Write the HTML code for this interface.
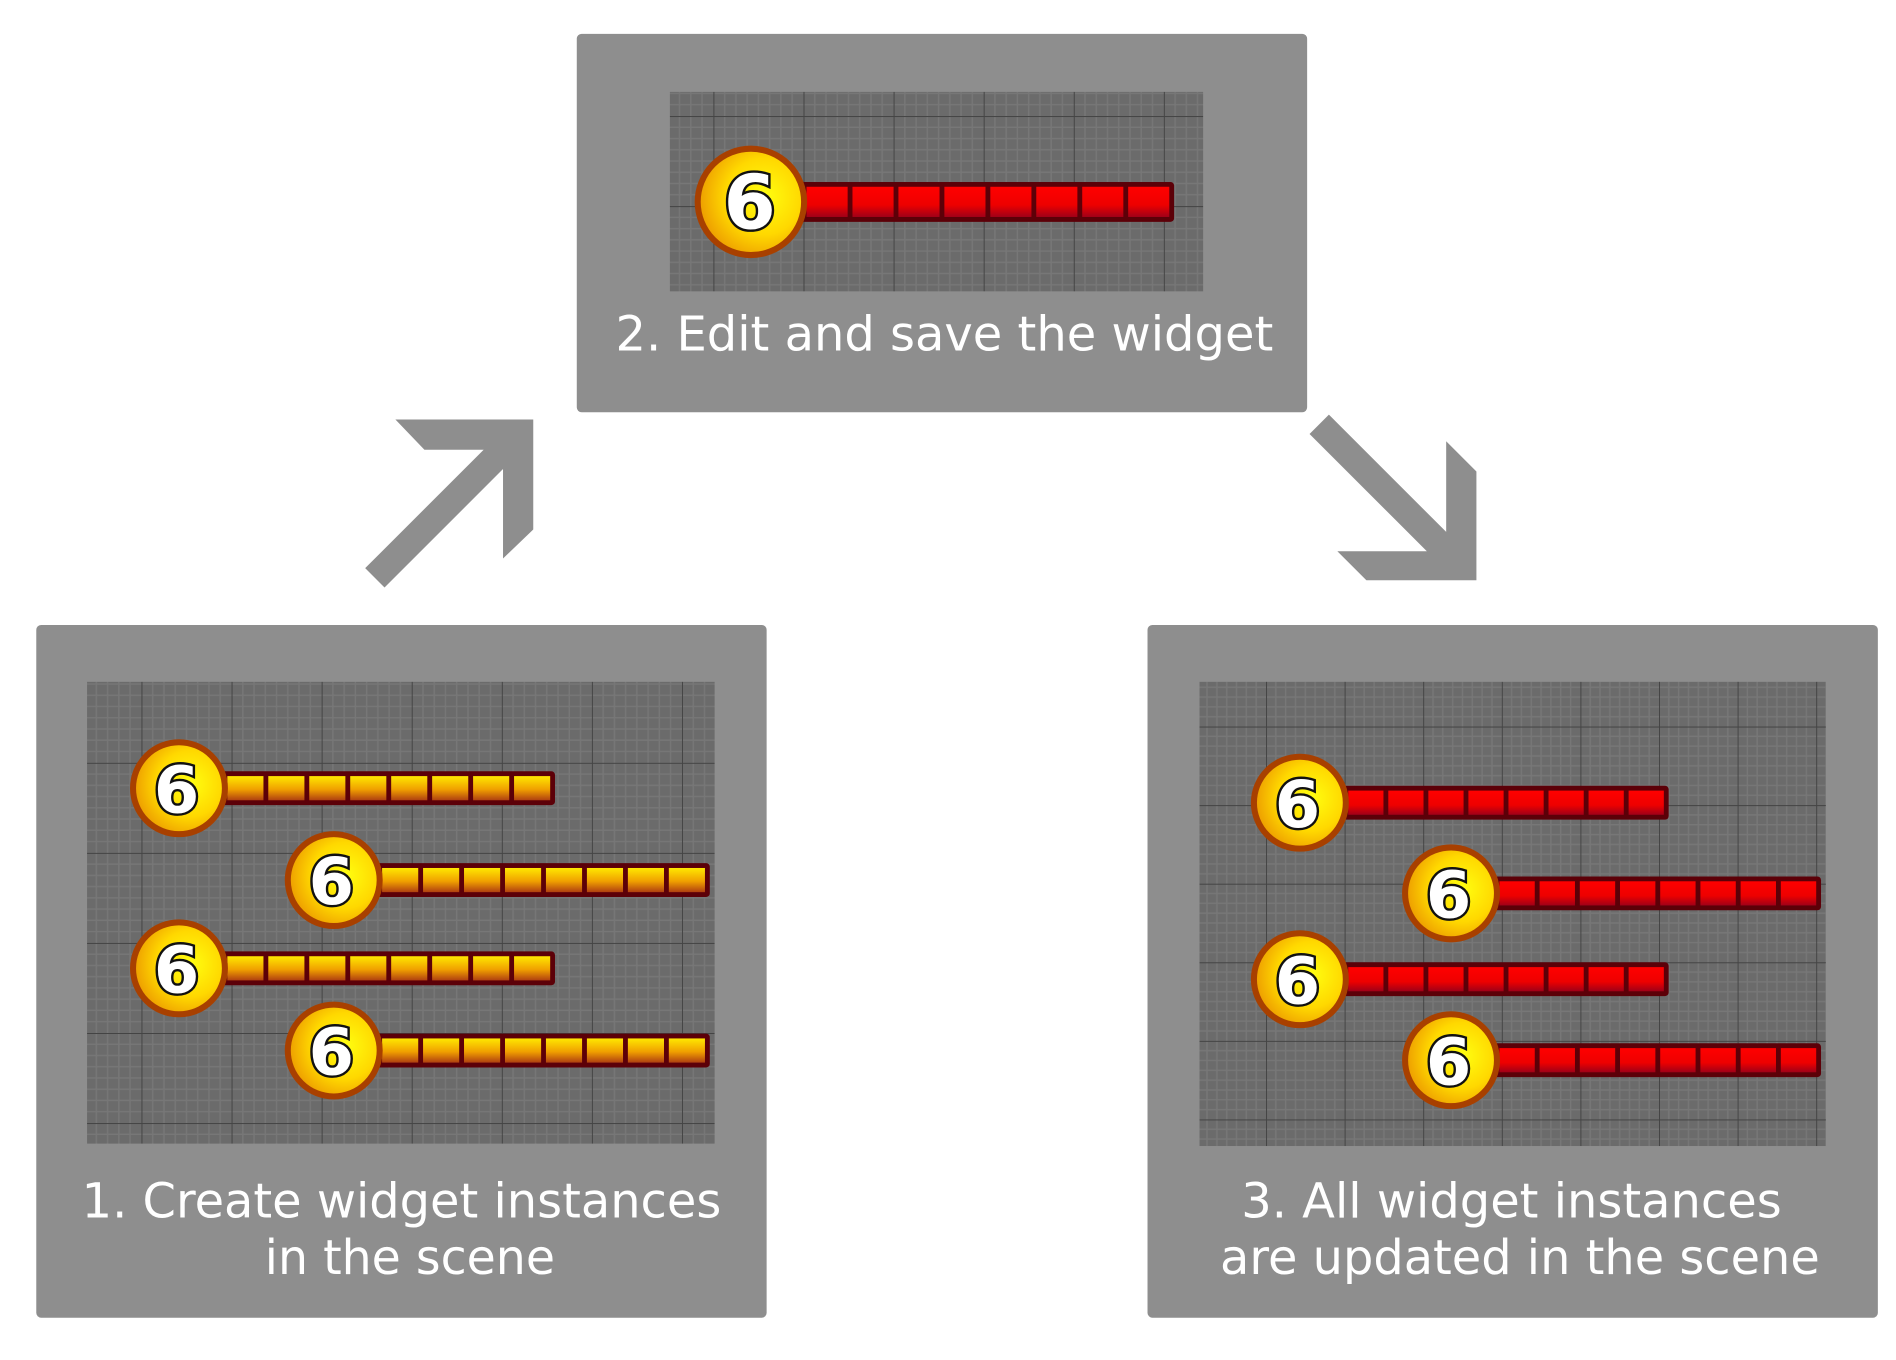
<!DOCTYPE html>
<html><head><meta charset="utf-8"><style>html,body{margin:0;padding:0;background:#fff}svg{display:block}</style></head>
<body>
<svg id="s" width="1896" height="1360" viewBox="0 0 1568 1125" preserveAspectRatio="none" xmlns="http://www.w3.org/2000/svg">
<defs>
<radialGradient id="ball" cx="0.62" cy="0.45" r="0.6"><stop offset="0" stop-color="#ffff10"/><stop offset="0.6" stop-color="#ffd800"/><stop offset="1" stop-color="#eea000"/></radialGradient>
<linearGradient id="segY" x1="0" y1="0" x2="0" y2="1"><stop offset="0" stop-color="#ffe800"/><stop offset="0.55" stop-color="#f0a000"/><stop offset="1" stop-color="#b04010"/></linearGradient>
<linearGradient id="segR" x1="0" y1="0" x2="0" y2="1"><stop offset="0" stop-color="#ff0000"/><stop offset="0.6" stop-color="#ee0000"/><stop offset="1" stop-color="#a00018"/></linearGradient>
<pattern id="g2" patternUnits="userSpaceOnUse" x="590" y="96" width="74.5" height="74.5"><rect width="74.5" height="74.5" fill="#6b6b6b"/><path d="M9.3 0V74.5M18.6 0V74.5M27.9 0V74.5M37.2 0V74.5M46.5 0V74.5M55.8 0V74.5M65.1 0V74.5M0 9.3H74.5M0 18.6H74.5M0 27.9H74.5M0 37.2H74.5M0 46.5H74.5M0 55.8H74.5M0 65.1H74.5" stroke="#777" stroke-width="1.2"/><path d="M0 0V74.5M0 0H74.5" stroke="#444" stroke-width="1.6"/></pattern>
<pattern id="g3" patternUnits="userSpaceOnUse" x="1047" y="666" width="65" height="65"><rect width="65" height="65" fill="#6b6b6b"/><path d="M8.1 0V65M16.2 0V65M24.4 0V65M32.5 0V65M40.6 0V65M48.7 0V65M56.9 0V65M0 8.1H65M0 16.2H65M0 24.4H65M0 32.5H65M0 40.6H65M0 48.7H65M0 56.9H65" stroke="#777" stroke-width="1.2"/><path d="M0 0V65M0 0H65" stroke="#444" stroke-width="1.6"/></pattern>
<pattern id="g1b" patternUnits="userSpaceOnUse" x="117" y="631" width="74.5" height="74.5"><rect width="74.5" height="74.5" fill="#6b6b6b"/><path d="M9.3 0V74.5M18.6 0V74.5M27.9 0V74.5M37.2 0V74.5M46.5 0V74.5M55.8 0V74.5M65.1 0V74.5M0 9.3H74.5M0 18.6H74.5M0 27.9H74.5M0 37.2H74.5M0 46.5H74.5M0 55.8H74.5M0 65.1H74.5" stroke="#777" stroke-width="1.2"/><path d="M0 0V74.5M0 0H74.5" stroke="#444" stroke-width="1.6"/></pattern>
</defs>
<rect width="1568" height="1125" fill="#fff"/>
<rect x="477" y="28" width="604" height="313" rx="4" fill="#8e8e8e"/>
<rect x="30" y="517" width="604" height="573" rx="4" fill="#8e8e8e"/>
<rect x="949" y="517" width="604" height="573" rx="4" fill="#8e8e8e"/>
<rect x="554" y="76" width="441" height="165" fill="url(#g2)"/>
<rect x="72" y="564" width="519" height="382" fill="url(#g1b)"/>
<rect x="992" y="564" width="518" height="384" fill="url(#g3)"/>
<polygon fill="#8e8e8e" points="327,347 441,347 441,438 416,462 416,388 318,486 302,470 400,372 351,372"/>
<polygon fill="#8e8e8e" points="1099,343 1196,440 1196,365 1221,390 1221,480 1130,480 1106,456 1180,456 1083,359"/>
<g id="w"></g>
<g font-family="'DejaVu Sans','Liberation Sans',sans-serif" font-weight="bold" fill="#fff" stroke="#111" stroke-width="4" paint-order="stroke" text-anchor="middle">
<text x="620" y="189" font-size="62">6</text>
<g font-size="54">
<text x="146" y="672">6</text>
<text x="274" y="748">6</text>
<text x="146" y="821">6</text>
<text x="274" y="889">6</text>
<text x="1073" y="684">6</text>
<text x="1198" y="759">6</text>
<text x="1073" y="830">6</text>
<text x="1198" y="897">6</text>
</g>
</g>
<g font-family="'DejaVu Sans','Liberation Sans',sans-serif" font-size="40" fill="#fff" text-anchor="middle">
<text x="781" y="290" textLength="544" lengthAdjust="spacingAndGlyphs">2. Edit and save the widget</text>
<text x="332" y="1007" textLength="529" lengthAdjust="spacingAndGlyphs">1. Create widget instances</text>
<text x="339" y="1054" textLength="240" lengthAdjust="spacingAndGlyphs">in the scene</text>
<text x="1250" y="1007" textLength="447" lengthAdjust="spacingAndGlyphs">3. All widget instances</text>
<text x="1257" y="1054" textLength="496" lengthAdjust="spacingAndGlyphs">are updated in the scene</text>
</g>
<script>
(function(){
var ns="http://www.w3.org/2000/svg",g=document.getElementById("w");
function el(t,a){var e=document.createElementNS(ns,t);for(var k in a)e.setAttribute(k,a[k]);g.appendChild(e);}
function widget(cx,cy,end,seg,r,h){
 el("rect",{x:cx+20,y:cy-h/2,width:end-cx-20,height:h,rx:3,fill:"#5c0008"});
 var s=cx+r+2,e=end-4,gap=4,w=(e-s+gap)/8-gap;
 for(var i=0;i<8;i++)el("rect",{x:s+i*(w+gap),y:cy-h/2+4,width:w,height:h-8,fill:seg});
 el("circle",{cx:cx,cy:cy,r:r,fill:"url(#ball)",stroke:"#a84000","stroke-width":5});
}
widget(621,167,971,"url(#segR)",44,33);
widget(148,652,459,"url(#segY)",38,28);widget(276,728,587,"url(#segY)",38,28);
widget(148,801,459,"url(#segY)",38,28);widget(276,869,587,"url(#segY)",38,28);
widget(1075,664,1380,"url(#segR)",38,28);widget(1200,739,1506,"url(#segR)",38,28);
widget(1075,810,1380,"url(#segR)",38,28);widget(1200,877,1506,"url(#segR)",38,28);
})();
</script>
</svg>
</body></html>
